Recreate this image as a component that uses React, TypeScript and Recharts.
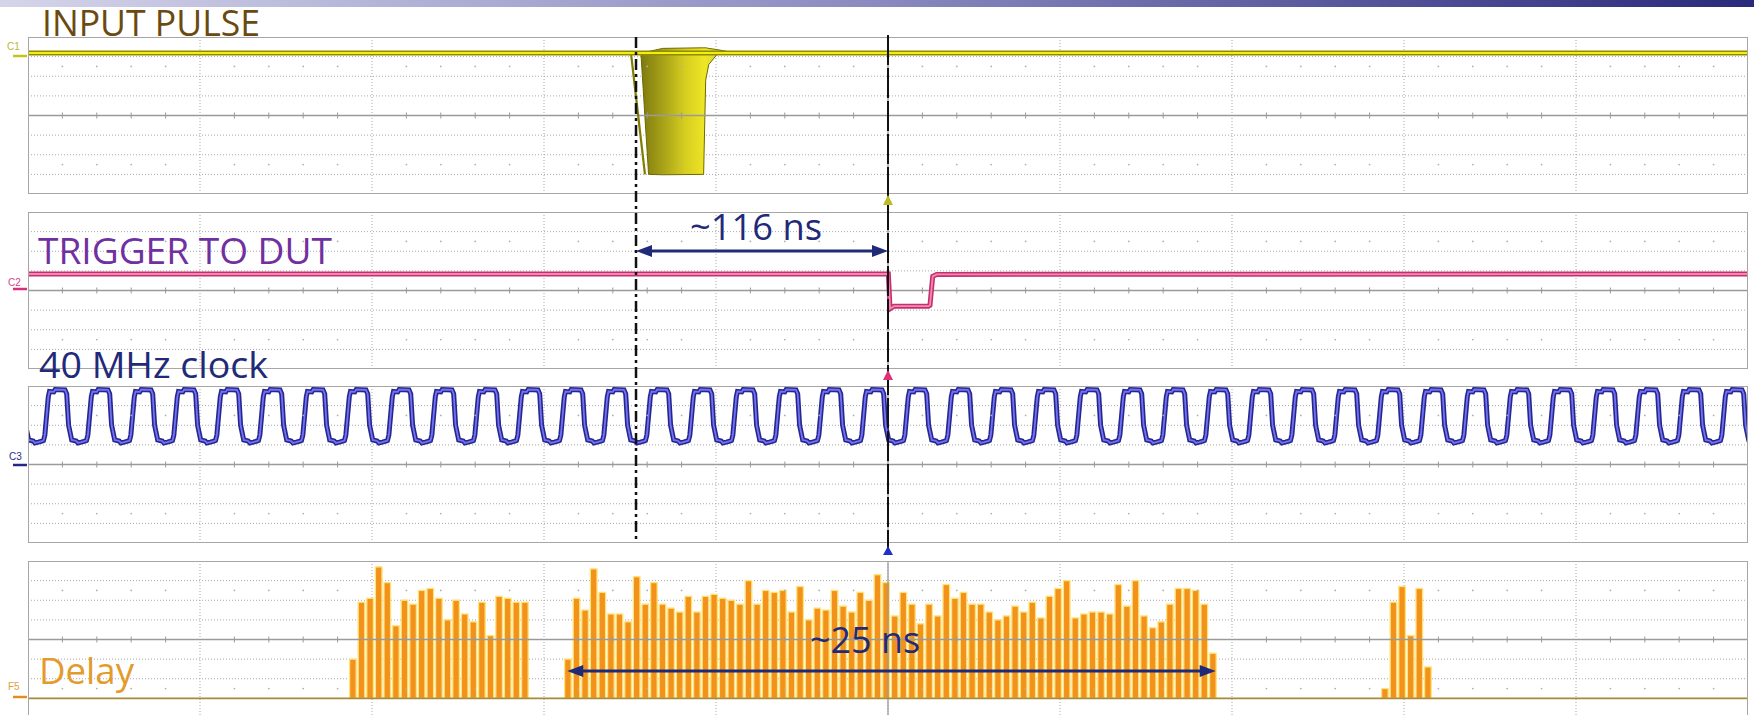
import React from "react";
import {
  Area,
  Bar,
  CartesianGrid,
  ComposedChart,
  Line,
  ReferenceLine,
  Scatter,
  XAxis,
  YAxis,
} from "recharts";

const WIDTH = 1754;
const HEIGHT = 715;
const GRID_LEFT = 28;
const GRID_W = 1720;
const GRID_H = 157;
const NAVY = "#1f2a78";

// time axis in ns from the trigger, 100 ns/div
const timeTicks = [-500, -400, -300, -200, -100, 0, 100, 200, 300, 400, 500];
const voltTicks = [-4, -3, -2, -1, 0, 1, 2, 3, 4];
const histTicks = [-10, 0, 10, 20, 30, 40, 50, 60, 70];

// C1 input pulse (levels in divisions)
const inputLineT = [-500, 500];
const inputLineV = [3.18, 3.18];
const pulseT = [-143.6, -139.2, -131, -107.2, -106, -104.2, -99.5, -92];
const pulseLow = [3.1, -3.0, -3.02, -3.0, 1.8, 2.6, 3.1, 3.15];
const pulseHigh = [3.22, 3.26, 3.42, 3.45, 3.45, 3.42, 3.36, 3.24];
const pulseEdgeT = [-149.4, -141.3];
const pulseEdgeV = [3.15, -3.0];

// C2 trigger to DUT
const trigT = [-500, 0.2, 1.2, 3.5, 23.5, 24.4, 26, 28.3, 500];
const trigV = [0.84, 0.84, -0.93, -0.8, -0.8, -0.75, 0.72, 0.82, 0.84];

// C3 40 MHz clock: rising edge times and the shape of one period
const clockRise = [
  -516, -491, -466, -441, -416, -391, -366, -341, -316, -291, -266, -241, -216, -191,
  -166, -141, -116, -91, -66, -41, -16, 9, 34, 59, 84, 109, 134, 159, 184, 209, 234,
  259, 284, 309, 334, 359, 384, 409, 434, 459, 484,
];
const clockDt = [0, 0.8, 2.8, 3.5, 6, 6.8, 12.5, 13.5, 14.6, 16.4, 19, 20, 22, 24.5];
const clockV = [1.22, 1.5, 3.45, 3.72, 3.7, 3.82, 3.8, 3.6, 2.0, 1.25, 1.2, 1.1, 1.14, 1.2];

// F5 delay histogram, 5 ns bins (values x0.1 div)
const histStart = [-311, -186, 289];
const histGroup1 = [20, 49, 51, 67, 59, 37, 50, 48, 55, 56, 51, 40, 50, 43, 39, 49, 32, 52, 51, 49, 49];
const histGroup2 = [
  20, 51, 45, 66, 54, 43, 43, 39, 62, 48, 59, 48, 46, 44, 52, 44, 52, 53, 51, 50, 48,
  60, 48, 55, 54, 55, 44, 57, 40, 46, 45, 55, 47, 44, 54, 50, 63, 59, 42, 54, 48, 38,
  48, 42, 58, 51, 54, 48, 48, 44, 40, 42, 47, 44, 49, 41, 52, 56, 60, 41, 43, 44, 44,
  43, 58, 47, 60, 42, 36, 39, 48, 56, 56, 55, 48, 23,
];
const histGroup3 = [5, 49, 57, 32, 56, 16];

const inputLine = inputLineT.map((t, i) => ({ t, v: inputLineV[i] }));
const pulseArea = pulseT.map((t, i) => ({ t, range: [pulseLow[i], pulseHigh[i]] }));
const pulseEdge = pulseEdgeT.map((t, i) => ({ t, v: pulseEdgeV[i] }));
const trigData = trigT.map((t, i) => ({ t, v: trigV[i] }));
const clockData = clockRise.flatMap((r) => clockDt.map((d, i) => ({ t: r + d, v: clockV[i] })));
const histData = [histGroup1, histGroup2, histGroup3].flatMap((g, k) =>
  g.map((n, i) => ({ t: histStart[k] + 5 * i, n }))
);

const minorT: number[] = [];
for (let t = -480; t <= 480; t += 20) if (t % 100 !== 0) minorT.push(t);

const tx = (t: number) => GRID_LEFT + ((t + 500) / 1000) * GRID_W;

const tickShape = (p: any) => (
  <line x1={p.cx} x2={p.cx} y1={p.cy - 3} y2={p.cy + 3} stroke="#9a9a9a" strokeWidth={1} />
);
const dotShape = (p: any) => <circle cx={p.cx} cy={p.cy} r={0.9} fill="#b0b0b0" />;

// bin bars: fixed 6.6px wide, centred on the bin time
const barShape = (p: any) => {
  const cx = p.x + p.width / 2;
  return (
    <rect
      x={cx - 3.3}
      y={p.y}
      width={6.6}
      height={Math.max(p.height, 0)}
      fill="#f2921a"
      stroke="#ffe27a"
      strokeWidth={1.3}
    />
  );
};

type PanelProps = {
  top: number;
  domain: [number, number];
  yTicks: number[];
  center: number;
  dotOffset: number;
  data?: any[];
  children: React.ReactNode;
};

function Panel({ top, domain, yTicks, center, dotOffset, data, children }: PanelProps) {
  const ticks = minorT.map((t) => ({ t, v: center }));
  const dots = minorT.flatMap((t) => [
    { t, v: center + dotOffset },
    { t, v: center - dotOffset },
  ]);
  return (
    <div style={{ position: "absolute", left: GRID_LEFT, top, width: GRID_W, height: GRID_H }}>
      <ComposedChart
        width={GRID_W}
        height={GRID_H}
        data={data}
        margin={{ top: 0, right: 0, bottom: 0, left: 0 }}
      >
        <defs>
          <linearGradient id="pulseFill" x1="0" y1="0" x2="1" y2="0">
            <stop offset="0%" stopColor="#7e7a10" />
            <stop offset="25%" stopColor="#a8a218" />
            <stop offset="50%" stopColor="#d6ce20" />
            <stop offset="72%" stopColor="#eee624" />
            <stop offset="88%" stopColor="#d8d040" />
            <stop offset="100%" stopColor="#c4bc48" />
          </linearGradient>
        </defs>
        <XAxis
          type="number"
          dataKey="t"
          domain={[-500, 500]}
          ticks={timeTicks}
          interval={0}
          hide
          allowDataOverflow
        />
        <YAxis type="number" domain={domain} ticks={yTicks} interval={0} hide allowDataOverflow />
        <CartesianGrid stroke="#a8a8a8" strokeDasharray="1 2" />
        <ReferenceLine y={center} stroke="#9a9a9a" strokeWidth={1.3} />
        <ReferenceLine x={0} stroke="#9a9a9a" strokeWidth={1.3} />
        <Scatter data={ticks} dataKey="v" shape={tickShape} isAnimationActive={false} />
        <Scatter data={dots} dataKey="v" shape={dotShape} isAnimationActive={false} />
        {children}
      </ComposedChart>
      <div
        style={{
          position: "absolute",
          left: 0,
          top: 0,
          width: GRID_W,
          height: GRID_H,
          border: "1.5px solid #a6a6a6",
          boxSizing: "border-box",
          pointerEvents: "none",
        }}
      />
    </div>
  );
}

const titles = [
  { text: "INPUT PULSE", x: 42, y: 36, w: 218, color: "#6a4a10" },
  { text: "TRIGGER TO DUT", x: 38, y: 264, w: 294, color: "#7030a0" },
  { text: "~116 ns", x: 690, y: 240, w: 132, color: NAVY },
  { text: "40 MHz clock", x: 39, y: 378, w: 229, color: NAVY },
  { text: "~25 ns", x: 810, y: 653, w: 110, color: NAVY },
  { text: "Delay", x: 39, y: 684, w: 95, color: "#e39b2d" },
];

const chanLabels = [
  { text: "C1", x: 7, y: 50, color: "#bdb53a", mark: 56, markColor: "#c9c21a" },
  { text: "C2", x: 8, y: 286, color: "#d2468a", mark: 289, markColor: "#d8307a" },
  { text: "C3", x: 9, y: 460, color: "#2c2c8c", mark: 465, markColor: "#25258a" },
  { text: "F5", x: 8, y: 690, color: "#e0a040", mark: 697, markColor: "#e0901a" },
];

function Arrow({ x1, x2, y }: { x1: number; x2: number; y: number }) {
  return (
    <g>
      <line x1={x1 + 12} x2={x2 - 12} y1={y} y2={y} stroke={NAVY} strokeWidth={2.8} />
      <polygon points={`${x1},${y} ${x1 + 16},${y - 6} ${x1 + 16},${y + 6}`} fill={NAVY} />
      <polygon points={`${x2},${y} ${x2 - 16},${y - 6} ${x2 - 16},${y + 6}`} fill={NAVY} />
    </g>
  );
}

export default function App() {
  const trigX = tx(0);
  const cursorX = tx(-146.5);
  return (
    <div
      style={{
        position: "absolute",
        left: 0,
        top: 0,
        width: WIDTH,
        height: HEIGHT,
        overflow: "hidden",
        background: "#ffffff",
      }}
    >
      <Panel top={37} domain={[-4, 4]} yTicks={voltTicks} center={0} dotOffset={2.5}>
        <Area
          data={pulseArea}
          dataKey="range"
          type="linear"
          stroke="#6e6a00"
          strokeWidth={1}
          fill="url(#pulseFill)"
          fillOpacity={1}
          isAnimationActive={false}
        />
        <Line data={pulseEdge} dataKey="v" type="linear" stroke="#807c00" strokeWidth={2.2} dot={false} isAnimationActive={false} />
        <Line data={inputLine} dataKey="v" type="linear" stroke="#8f8c00" strokeWidth={5} dot={false} isAnimationActive={false} />
        <Line data={inputLine} dataKey="v" type="linear" stroke="#f2ee10" strokeWidth={2} dot={false} isAnimationActive={false} />
      </Panel>

      <Panel top={212} domain={[-4, 4]} yTicks={voltTicks} center={0} dotOffset={2.5}>
        <Line data={trigData} dataKey="v" type="linear" stroke="#c4306c" strokeWidth={5} dot={false} isAnimationActive={false} />
        <Line data={trigData} dataKey="v" type="linear" stroke="#f38ab5" strokeWidth={1.8} dot={false} isAnimationActive={false} />
      </Panel>

      <Panel top={386} domain={[-4, 4]} yTicks={voltTicks} center={0} dotOffset={2.5}>
        <Line data={clockData} dataKey="v" type="linear" stroke="#26268c" strokeWidth={5} dot={false} isAnimationActive={false} />
        <Line data={clockData} dataKey="v" type="linear" stroke="#7272f5" strokeWidth={1.8} dot={false} isAnimationActive={false} />
      </Panel>

      <Panel top={561} domain={[-10, 70]} yTicks={histTicks} center={30} dotOffset={25} data={histData}>
        <ReferenceLine y={0} stroke="#a88a3a" strokeWidth={1.8} />
        <Bar dataKey="n" shape={barShape} isAnimationActive={false} />
      </Panel>

      <svg width={WIDTH} height={HEIGHT} style={{ position: "absolute", left: 0, top: 0, pointerEvents: "none" }}>
        <defs>
          <linearGradient id="topBar" x1="0" y1="0" x2="1" y2="0">
            <stop offset="0%" stopColor="#d4d4ea" />
            <stop offset="50%" stopColor="#8a8ac0" />
            <stop offset="100%" stopColor="#2a2a7c" />
          </linearGradient>
        </defs>
        <rect x={0} y={0} width={WIDTH} height={7} fill="url(#topBar)" />

        <line x1={cursorX} x2={cursorX} y1={37} y2={543} stroke="#111" strokeWidth={2.5} strokeDasharray="11 4 3 4" />
        <line x1={trigX} x2={trigX} y1={35} y2={548} stroke="#111" strokeWidth={2} strokeDasharray="30 3" />

        <polygon points={`${trigX},195 ${trigX - 5},205 ${trigX + 5},205`} fill="#bcbc22" />
        <polygon points={`${trigX},370 ${trigX - 5},380 ${trigX + 5},380`} fill="#e0307a" />
        <polygon points={`${trigX},546 ${trigX - 5},555 ${trigX + 5},555`} fill="#2030c0" />

        {chanLabels.map((c) => (
          <g key={c.text}>
            <text x={c.x} y={c.y} fontFamily="Liberation Sans" fontSize={10} fill={c.color}>
              {c.text}
            </text>
            <line x1={13} x2={27} y1={c.mark} y2={c.mark} stroke={c.markColor} strokeWidth={2.5} />
          </g>
        ))}

        <Arrow x1={cursorX} x2={trigX} y={251} />
        <Arrow x1={tx(-186.5)} x2={tx(190.5)} y={671} />

        {titles.map((t) => (
          <text
            key={t.text}
            x={t.x}
            y={t.y}
            fontFamily="Open Sans"
            fontSize={36}
            fill={t.color}
            textLength={t.w}
            lengthAdjust="spacingAndGlyphs"
          >
            {t.text}
          </text>
        ))}
      </svg>
    </div>
  );
}
